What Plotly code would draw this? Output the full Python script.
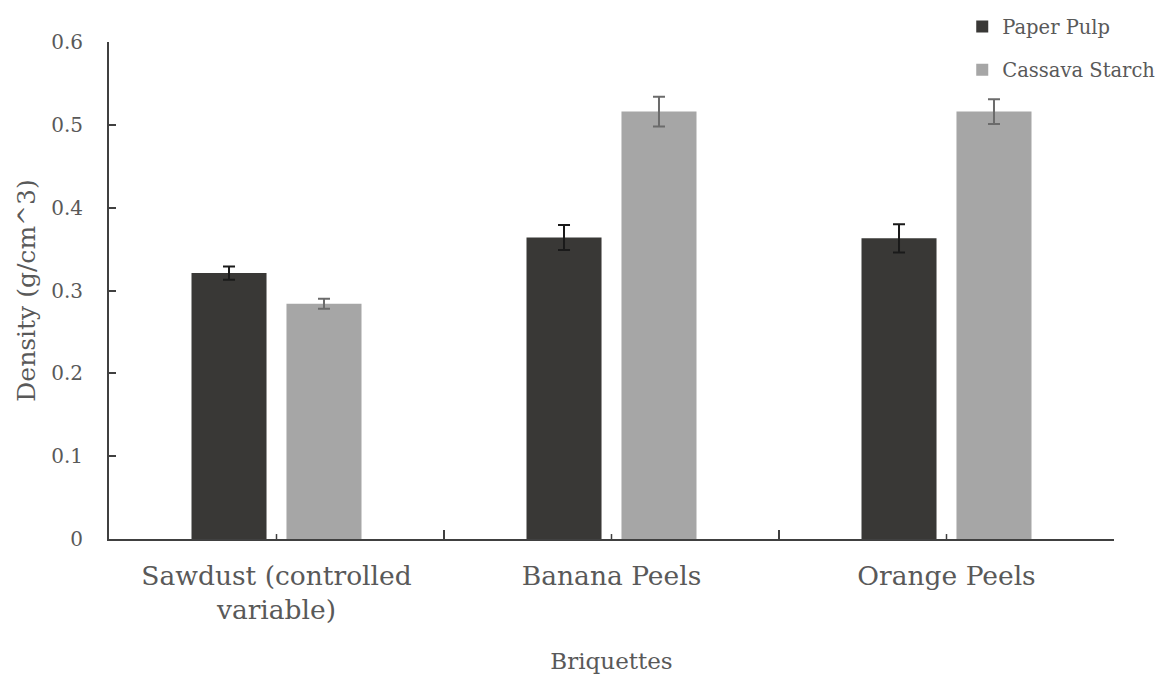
import plotly.graph_objects as go

categories = ["Sawdust (controlled<br>variable)", "Banana Peels", "Orange Peels"]
series_names = ["Paper Pulp", "Cassava Starch"]
paper_pulp = [0.321, 0.364, 0.363]
paper_pulp_err = [0.008, 0.015, 0.017]
cassava_starch = [0.284, 0.516, 0.516]
cassava_starch_err = [0.006, 0.018, 0.015]
y_ticks = [0, 0.1, 0.2, 0.3, 0.4, 0.5, 0.6]
y_tick_text = ["0", "0.1", "0.2", "0.3", "0.4", "0.5", "0.6"]

FONT = "DejaVu Serif"
TXT = "#595959"

fig = go.Figure()
fig.add_trace(go.Bar(
    name=series_names[0], x=categories, y=paper_pulp,
    marker=dict(color="#393836", line=dict(width=0)),
    error_y=dict(type="data", array=paper_pulp_err, color="#1a1a1a", thickness=2, width=6),
    legendgroup="a",
))
fig.add_trace(go.Bar(
    name=series_names[1], x=categories, y=cassava_starch,
    marker=dict(color="#a6a6a6", line=dict(width=0)),
    error_y=dict(type="data", array=cassava_starch_err, color="#6b6b6b", thickness=2, width=6),
    legendgroup="b",
))

for c in categories:
    fig.add_shape(type="line", xref="x", yref="paper", x0=c, x1=c, y0=0, y1=0.01,
                  line=dict(color="#404040", width=1.5))

fig.update_layout(
    width=1173, height=677,
    paper_bgcolor="white", plot_bgcolor="white",
    margin=dict(l=101, r=67, t=34, b=146, autoexpand=False),
    barmode="group", bargap=0.433, bargroupgap=0.21,
    font=dict(family=FONT, color=TXT),
    showlegend=True,
    legend=dict(x=0.849, y=1.07, xanchor="left", yanchor="top",
                font=dict(family=FONT, size=19.5, color=TXT),
                tracegroupgap=15, itemwidth=30, bgcolor="rgba(0,0,0,0)"),
)
fig.update_xaxes(
    type="category", showline=True, linecolor="#404040", linewidth=2,
    ticks="inside", tickson="boundaries", ticklen=9, tickcolor="#404040", tickwidth=1.5,
    ticklabelstandoff=12,
    tickfont=dict(family=FONT, size=26.5, color=TXT),
    title=dict(text="Briquettes", font=dict(family=FONT, size=23, color=TXT), standoff=29),
    showgrid=False, zeroline=False, automargin=False,
)
fig.update_yaxes(
    range=[0, 0.6], tickvals=y_ticks, ticktext=y_tick_text,
    showline=True, linecolor="#404040", linewidth=2,
    ticks="inside", ticklen=7, tickcolor="#404040", tickwidth=1.5,
    ticklabelstandoff=20,
    tickfont=dict(family=FONT, size=20, color=TXT),
    title=dict(text="Density (g/cm^3)", font=dict(family=FONT, size=25, color=TXT), standoff=8),
    showgrid=False, zeroline=False, automargin=False,
)

fig.write_html("out.html")
